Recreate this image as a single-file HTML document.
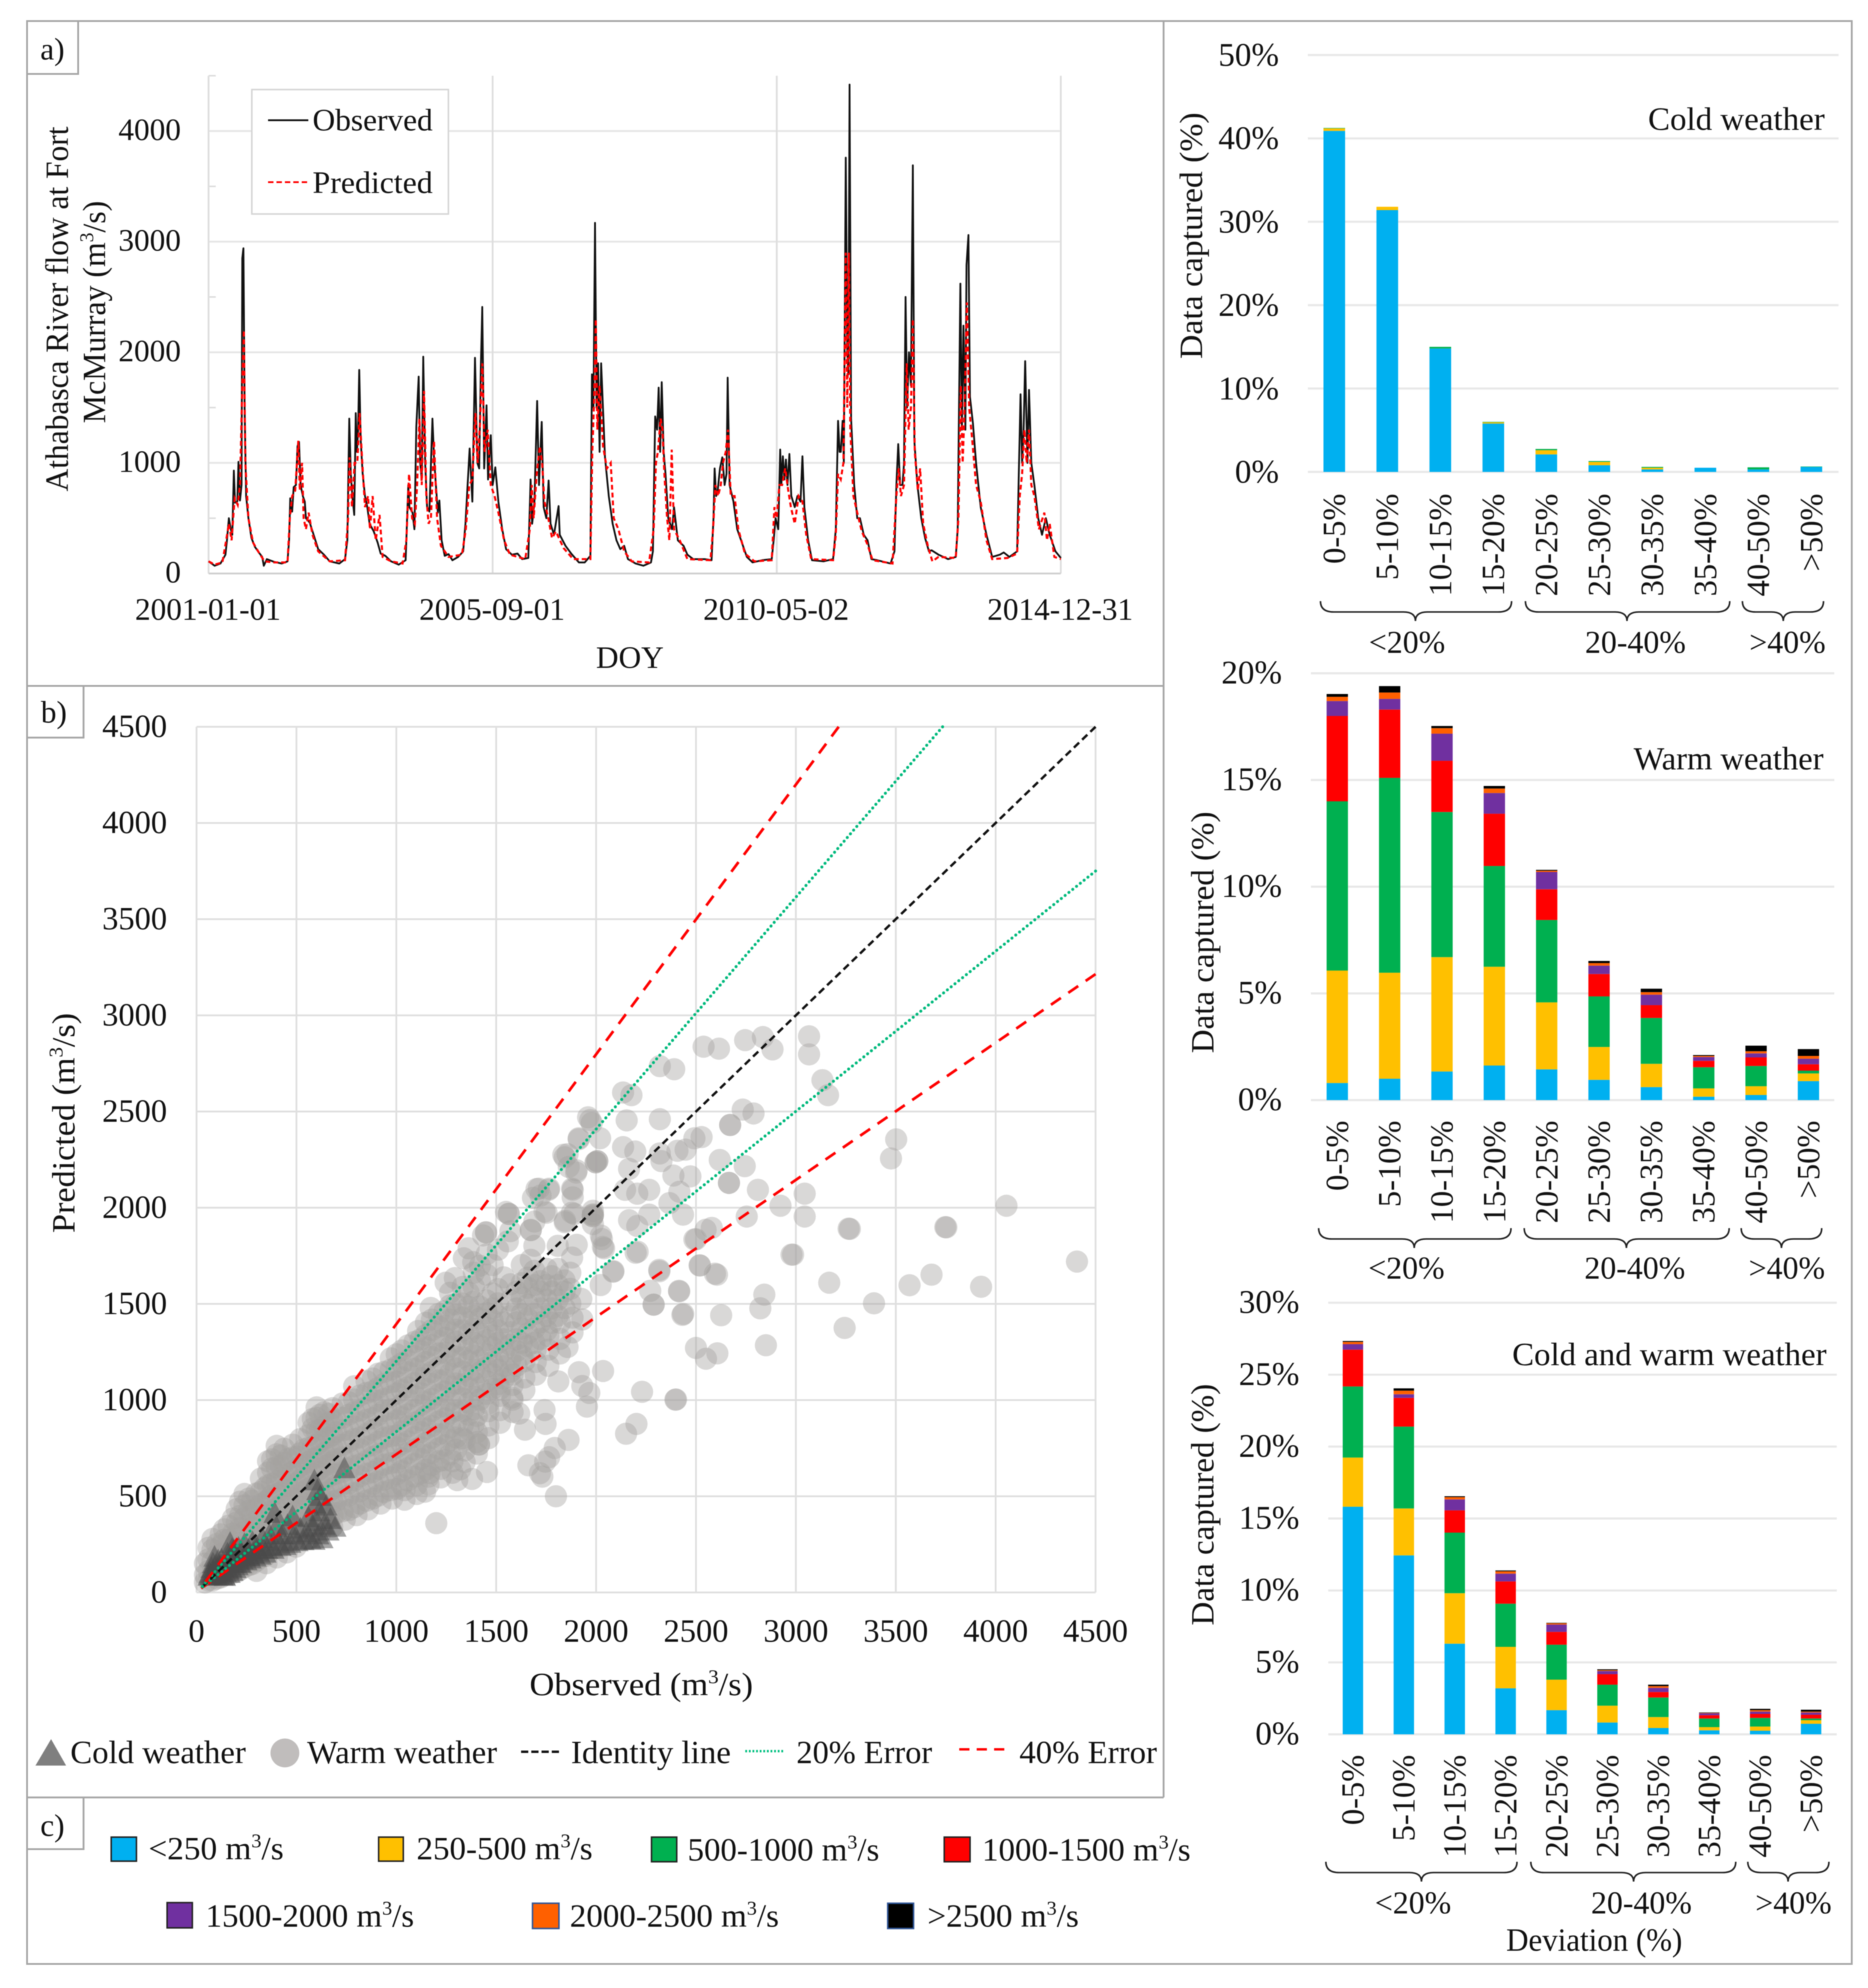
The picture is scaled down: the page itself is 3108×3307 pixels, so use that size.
<!DOCTYPE html>
<html lang="en">
<head>
<meta charset="utf-8">
<title>Athabasca River flow: observed vs predicted</title>
<style>
html,body{margin:0;padding:0;background:#fff;width:3108px;height:3307px;overflow:hidden}
svg{display:block;filter:blur(0.9px)}
text{font-family:"Liberation Serif","Times New Roman",serif;fill:#111}
</style>
</head>
<body>
<svg id="fig" xmlns="http://www.w3.org/2000/svg" width="3108" height="3307" viewBox="0 0 3108 3307">
  <rect x="0" y="0" width="3108" height="3307" fill="#fff"/>
  <g id="panelA"></g>
  <g id="panelB"></g>
  <g id="chartCold"></g>
  <g id="chartWarm"></g>
  <g id="chartBoth"></g>

  <g fill="none" stroke="#a6a6a6" stroke-width="3">
    <rect x="45" y="35" width="3036" height="3232"/>
    <path d="M1936 35V2990"/>
    <path d="M45 1141H1936"/>
    <path d="M45 2990H1936"/>
    <path d="M45 123H130V35"/>
    <path d="M45 1227H139V1141"/>
    <path d="M45 3076H139V2990"/>
  </g>
  <text x="67" y="99" font-size="52">a)</text>
  <text x="68" y="1202" font-size="52">b)</text>
  <text x="67" y="3054" font-size="52">c)</text>

  <!-- panel a static text -->
  <g>
    <rect x="419" y="149" width="327" height="207" fill="#fff" stroke="#d4d4d4" stroke-width="2.5"/>
    <path d="M446 200H513" stroke="#111" stroke-width="3"/>
    <text x="520" y="217" font-size="52" textLength="200" lengthAdjust="spacingAndGlyphs">Observed</text>
    <path d="M446 303H513" stroke="#f00" stroke-width="3" stroke-dasharray="9 5"/>
    <text x="520" y="321" font-size="52" textLength="200" lengthAdjust="spacingAndGlyphs">Predicted</text>
  </g>
  <text transform="rotate(-90 113 514)" x="113" y="514" text-anchor="middle" font-size="54" textLength="607" lengthAdjust="spacingAndGlyphs">Athabasca River flow at Fort</text>
  <text transform="rotate(-90 175 519)" x="175" y="519" text-anchor="middle" font-size="54" textLength="370" lengthAdjust="spacingAndGlyphs">McMurray (m<tspan font-size="33" dy="-20">3</tspan><tspan dy="20">/s)</tspan></text>
  <text x="1048" y="1111" text-anchor="middle" font-size="52">DOY</text>

  <!-- panel b static text -->
  <text transform="rotate(-90 124 1868)" x="124" y="1868" text-anchor="middle" font-size="54" textLength="366" lengthAdjust="spacingAndGlyphs">Predicted (m<tspan font-size="33" dy="-20">3</tspan><tspan dy="20">/s)</tspan></text>
  <text x="881" y="2820" font-size="54" textLength="372" lengthAdjust="spacingAndGlyphs">Observed (m<tspan font-size="33" dy="-20">3</tspan><tspan dy="20">/s)</tspan></text>
  <g>
    <path d="M85 2893L110 2937H59Z" fill="#7f7f7f"/>
    <text x="117" y="2933" font-size="54" textLength="292" lengthAdjust="spacingAndGlyphs">Cold weather</text>
    <circle cx="474" cy="2916" r="24" fill="#c0bdbc"/>
    <text x="511" y="2933" font-size="54" textLength="316" lengthAdjust="spacingAndGlyphs">Warm weather</text>
    <path d="M867 2914H930" stroke="#111" stroke-width="4" stroke-dasharray="12 5"/>
    <text x="950" y="2933" font-size="54" textLength="266" lengthAdjust="spacingAndGlyphs">Identity line</text>
    <path d="M1240 2913H1303" stroke="#00c080" stroke-width="4" stroke-dasharray="3 3"/>
    <text x="1325" y="2933" font-size="54" textLength="226" lengthAdjust="spacingAndGlyphs">20% Error</text>
    <path d="M1596 2910H1672" stroke="#f00" stroke-width="4" stroke-dasharray="17 12"/>
    <text x="1696" y="2933" font-size="54" textLength="229" lengthAdjust="spacingAndGlyphs">40% Error</text>
  </g>

  <!-- panel c legend -->
  <g stroke-width="0">
    <rect x="185" y="3056" width="42" height="40" fill="#00b0f0" stroke="#222" stroke-width="2.5"/>
    <text x="247" y="3093" font-size="54" textLength="225" lengthAdjust="spacingAndGlyphs">&lt;250 m<tspan font-size="33" dy="-20">3</tspan><tspan dy="20">/s</tspan></text>
    <rect x="630" y="3056" width="41" height="40" fill="#ffc000" stroke="#222" stroke-width="2.5"/>
    <text x="693" y="3093" font-size="54" textLength="293" lengthAdjust="spacingAndGlyphs">250-500 m<tspan font-size="33" dy="-20">3</tspan><tspan dy="20">/s</tspan></text>
    <rect x="1084" y="3056" width="42" height="41" fill="#00b050" stroke="#222" stroke-width="2.5"/>
    <text x="1144" y="3095" font-size="54" textLength="319" lengthAdjust="spacingAndGlyphs">500-1000 m<tspan font-size="33" dy="-20">3</tspan><tspan dy="20">/s</tspan></text>
    <rect x="1571" y="3056" width="43" height="41" fill="#f00" stroke="#222" stroke-width="2.5"/>
    <text x="1634" y="3095" font-size="54" textLength="347" lengthAdjust="spacingAndGlyphs">1000-1500 m<tspan font-size="33" dy="-20">3</tspan><tspan dy="20">/s</tspan></text>
    <rect x="278" y="3165" width="42" height="42" fill="#7030a0" stroke="#222" stroke-width="2.5"/>
    <text x="342" y="3205" font-size="54" textLength="347" lengthAdjust="spacingAndGlyphs">1500-2000 m<tspan font-size="33" dy="-20">3</tspan><tspan dy="20">/s</tspan></text>
    <rect x="886" y="3166" width="44" height="42" fill="#ff6000" stroke="#2f5597" stroke-width="2.5"/>
    <text x="948" y="3205" font-size="54" textLength="348" lengthAdjust="spacingAndGlyphs">2000-2500 m<tspan font-size="33" dy="-20">3</tspan><tspan dy="20">/s</tspan></text>
    <rect x="1477" y="3166" width="43" height="42" fill="#000" stroke="#2f5597" stroke-width="2.5"/>
    <text x="1543" y="3205" font-size="54" textLength="252" lengthAdjust="spacingAndGlyphs">&gt;2500 m<tspan font-size="33" dy="-20">3</tspan><tspan dy="20">/s</tspan></text>
  </g>

  <!-- right column titles -->
  <text x="2742" y="216" font-size="54" textLength="294" lengthAdjust="spacingAndGlyphs">Cold weather</text>
  <text x="2718" y="1280" font-size="54" textLength="316" lengthAdjust="spacingAndGlyphs">Warm weather</text>
  <text x="2516" y="2271" font-size="54" textLength="523" lengthAdjust="spacingAndGlyphs">Cold and warm weather</text>
  <text transform="rotate(-90 2000 392)" x="2000" y="392" text-anchor="middle" font-size="54" textLength="410" lengthAdjust="spacingAndGlyphs">Data captured (%)</text>
  <text transform="rotate(-90 2019 1551)" x="2019" y="1551" text-anchor="middle" font-size="54" textLength="402" lengthAdjust="spacingAndGlyphs">Data captured (%)</text>
  <text transform="rotate(-90 2019 2503)" x="2019" y="2503" text-anchor="middle" font-size="54" textLength="402" lengthAdjust="spacingAndGlyphs">Data captured (%)</text>
  <text x="2506" y="3245" font-size="54" textLength="293" lengthAdjust="spacingAndGlyphs">Deviation (%)</text>
</svg>

<script>
/* ---------- Panel a data: [sample step (1 step = 2.3 days), flow m3/s] ---------- */
const flowTickValues = [0, 1000, 2000, 3000, 4000];
const flowMinorTicks = [500, 1500, 2500, 3500, 4500];
const dateTickSteps = [0, 741, 1482, 2223];
const dateTickLabels = ['2001-01-01', '2005-09-01', '2010-05-02', '2014-12-31'];
const observedFlow = [
[0,110],[16,70],[31,90],[44,170],[48,300],[53,500],[58,400],[62,350],[66,930],[69,640],[75,650],[78,1010],[82,660],[86,800],[88,2850],[91,2940],[94,1500],[98,700],[104,500],[112,320],[121,240],[131,190],[140,150],[144,70],[152,130],[171,105],[191,90],[206,110],
[210,300],[213,680],[218,560],[222,780],[228,800],[232,1150],[236,1190],[240,800],[246,700],[251,650],[254,500],[264,460],[274,350],[286,220],[301,170],[316,110],[341,90],[356,130],
[362,300],[367,1400],[371,900],[375,700],[380,530],[384,1450],[387,1100],[390,1300],[393,1840],[397,1200],[402,900],[408,700],[414,600],[420,450],[431,380],[441,280],[449,180],[461,160],[476,110],[496,80],[514,120],
[521,800],[524,600],[532,550],[537,400],[542,1330],[548,1780],[552,1000],[556,850],[560,1960],[565,1000],[570,600],[576,560],[584,1400],[588,1050],[592,850],[598,550],[602,660],[608,300],[616,160],[626,175],[636,120],[651,150],[664,200],
[670,450],[681,1130],[688,650],[695,1950],[701,1000],[706,950],[710,1830],[714,2410],[719,950],[725,1520],[729,850],[736,1250],[741,800],[748,960],[756,650],[766,400],[776,220],[791,170],[806,180],[818,130],[834,140],
[840,850],[844,450],[850,650],[857,1560],[862,800],[869,1370],[874,600],[881,500],[887,840],[892,450],[901,350],[913,610],[916,350],[931,250],[946,180],[966,100],[981,100],[996,160],
[1000,1800],[1004,1500],[1008,3170],[1012,1500],[1016,1900],[1020,1100],[1024,1900],[1034,1050],[1044,700],[1054,450],[1064,300],[1074,220],[1084,250],[1094,130],[1114,90],[1134,70],[1154,100],
[1159,200],[1165,1420],[1170,1300],[1174,1680],[1178,1100],[1182,1730],[1187,1100],[1192,900],[1199,500],[1209,400],[1214,600],[1224,300],[1239,250],[1249,170],[1264,130],[1294,130],[1312,120],
[1317,500],[1320,950],[1324,700],[1328,750],[1334,950],[1340,1050],[1346,800],[1351,900],[1354,1770],[1359,800],[1369,650],[1379,400],[1389,300],[1404,150],[1419,100],[1444,120],[1469,130],
[1474,300],[1479,500],[1486,400],[1491,1120],[1494,800],[1498,1060],[1502,850],[1506,1030],[1510,800],[1515,1080],[1520,700],[1529,600],[1536,700],[1544,650],[1549,1060],[1554,600],[1564,300],[1574,120],[1604,110],[1629,130],
[1636,400],[1642,1380],[1646,1100],[1649,1100],[1654,1380],[1657,1000],[1662,3760],[1666,2000],[1669,1800],[1672,4420],[1676,1400],[1684,800],[1692,500],[1699,500],[1709,350],[1719,300],[1729,130],[1744,120],[1779,90],[1789,200],
[1794,800],[1799,1170],[1804,800],[1810,800],[1814,1000],[1818,2500],[1822,1500],[1827,2000],[1832,1700],[1837,3690],[1841,1200],[1849,800],[1859,500],[1869,320],[1879,200],[1886,210],[1904,170],[1929,130],[1949,150],
[1954,400],[1961,2620],[1965,1300],[1969,2240],[1974,1300],[1977,2790],[1982,3060],[1986,1600],[1994,1350],[2002,1000],[2014,600],[2029,350],[2044,150],[2064,170],[2074,190],[2089,150],[2109,200],
[2114,1000],[2118,1620],[2122,1000],[2126,1300],[2130,1920],[2136,1000],[2140,1660],[2146,1000],[2154,800],[2164,500],[2174,350],[2184,500],[2194,350],[2209,200],[2223,140]
];
const predictedFlow = [
[0,110],[16,80],[36,100],[46,300],[53,450],[60,300],[68,680],[76,620],[82,800],[88,1700],[92,2200],[96,1000],[104,500],[116,280],[131,190],[146,110],[171,100],[206,100],
[212,500],[218,700],[226,750],[234,1200],[238,750],[244,1000],[248,500],[254,400],[261,550],[271,350],[286,200],[316,110],[356,120],
[364,500],[368,1050],[374,600],[381,1000],[388,1000],[394,1450],[401,1000],[408,600],[416,700],[421,400],[428,700],[436,300],[446,530],[454,150],[476,110],[506,90],
[516,300],[523,900],[531,500],[538,450],[544,800],[550,1400],[556,800],[562,1650],[568,700],[574,450],[580,500],[588,1200],[596,500],[606,250],[626,150],[661,170],
[671,400],[680,800],[688,850],[696,1450],[702,1000],[708,1350],[714,1900],[720,1100],[728,1300],[736,800],[746,700],[756,550],[771,300],[786,170],[826,130],
[838,400],[843,800],[848,500],[856,900],[864,1150],[870,1000],[876,650],[886,500],[896,320],[906,380],[926,230],[951,130],[996,130],
[1001,1100],[1006,1600],[1010,2300],[1014,1300],[1020,1700],[1029,1150],[1039,950],[1049,1000],[1057,500],[1069,400],[1084,200],[1104,110],[1149,100],
[1161,400],[1167,1000],[1172,1100],[1179,1400],[1184,1300],[1189,900],[1196,500],[1202,300],[1208,1120],[1214,400],[1229,300],[1249,130],[1309,120],
[1316,400],[1322,800],[1329,700],[1336,800],[1342,1000],[1349,1100],[1355,1300],[1362,700],[1372,700],[1382,400],[1399,180],[1424,110],[1469,120],
[1476,600],[1482,500],[1489,800],[1496,800],[1504,950],[1512,750],[1519,600],[1529,450],[1539,700],[1549,650],[1559,350],[1572,130],[1629,120],
[1636,350],[1642,900],[1649,850],[1656,1000],[1662,2900],[1666,1500],[1670,2900],[1674,1300],[1682,700],[1692,550],[1704,380],[1719,260],[1732,120],[1784,90],
[1794,700],[1800,950],[1806,700],[1814,800],[1821,1900],[1826,1300],[1832,1500],[1837,2300],[1842,1100],[1850,750],[1856,950],[1864,450],[1876,250],[1888,110],[1904,150],[1949,140],
[1956,500],[1962,1700],[1967,1000],[1972,1500],[1978,2450],[1984,1500],[1992,1200],[2002,800],[2014,650],[2029,300],[2044,130],[2084,140],[2109,180],
[2116,700],[2122,900],[2128,1300],[2134,1000],[2140,1300],[2146,800],[2154,700],[2166,400],[2180,550],[2187,300],[2194,450],[2206,150],[2223,130]
];

/* ---------- Panel b data: observed, then predicted values ---------- */
const scatterTicks = [0,500,1000,1500,2000,2500,3000,3500,4000,4500];
const errorFactors = [1/1.4, 1/1.2, 1, 1.205, 1.4];
const warmDense = [
[60,[62,112,172,232]],[102,[72,128,194,252]],[138,[88,152,208,274,328]],[182,[102,168,244,306,384]],[218,[118,192,258,334,398,472]],
[262,[142,206,284,348,424,488]],[298,[163,234,298,372,436,514]],[342,[188,262,328,404,468,544]],[378,[222,288,364,426,504,566,644,692]],[422,[238,314,378,454,516,594,656,712]],
[458,[272,336,414,476,554,616,694]],[504,[288,364,426,504,566,644,706]],[538,[322,386,464,526,604,666,744]],[582,[338,414,476,554,616,694,756,852,902]],[618,[362,426,504,566,644,706,784,846,924]],
[662,[388,464,526,604,666,744,806,884,928]],[698,[412,476,554,616,694,756,834,896]],[762,[428,504,566,644,706,784,846,924,988]],[818,[462,526,604,666,744,806,884,946,1024]],[882,[488,564,626,704,766,844,906,984,1046,1112]],
[938,[522,586,664,726,804,866,944,1006,1084,1146]],[1002,[538,614,676,754,816,894,956,1034,1096,1174,1238]],[1058,[582,646,724,786,864,926,1004,1066,1144,1206,1284]],[1122,[618,694,756,834,896,974,1036,1114,1176,1254,1316]],[1178,[662,726,804,866,944,1006,1084,1146,1224,1286,1364,1418]],
[1242,[688,764,826,904,966,1044,1106,1184,1246,1324,1386,1462]],[1298,[742,806,884,946,1024,1086,1164,1226,1304,1366,1444,1498]],[1362,[848,924,986,1064,1126,1204,1266,1344,1406,1484,1558]],[1418,[1002,1066,1144,1206,1284,1346,1424,1486,1622,1698]],[1482,[1058,1134,1196,1274,1336,1414,1476,1554,1702]],
[1538,[1112,1176,1254,1316,1404,1638]],[1602,[1178,1254,1316,1404,1476,1564]],[1658,[1282,1346,1424,1496,1584,1636]],[1722,[1318,1404,1476,1564,1618]],[1778,[1402,1476,1564,1644]],[1842,[1478,1564,1622]]
];
const warmDenseFill = [
[42,[52,92,150]],[80,[62,104,162,222,278]],[121,[78,122,178,242,302]],[160,[96,133,207,273,347]],[201,[108,152,224,297,363,433]],
[240,[132,173,247,314,387,453,512]],[279,[148,197,263,337,403,477]],[322,[182,243,317,383,457,523,592]],[358,[203,277,343,417,483,557,623,682]],[401,[232,298,372,438,512,578,652,718,762]],
[439,[253,327,393,467,533,607,673,747]],[482,[282,348,422,488,562,628,702,768]],[519,[303,377,443,517,583,657,723,797]],[561,[332,398,472,538,612,678,752,818,882]],[601,[348,422,488,562,628,702,768,842,908,962]],
[639,[377,443,517,583,657,723,797,863,937]],[681,[398,472,538,612,678,752,818,892,958]],[731,[422,488,562,628,702,768,842,908,982]],[789,[443,517,583,657,723,797,863,937,1003,1072]],[851,[477,543,617,683,757,823,897,963,1037,1098]],
[909,[503,577,643,717,783,857,923,997,1063,1137]],[972,[532,598,672,738,812,878,952,1018,1092,1158,1217]],[1028,[558,632,698,772,838,912,978,1052,1118,1192,1258]],[1091,[602,668,742,808,882,948,1022,1088,1162,1228,1302]],[1148,[638,712,778,852,918,992,1058,1132,1198,1272,1338,1402]],
[1212,[682,748,822,888,962,1028,1102,1168,1242,1308,1382,1448]],[1269,[718,792,858,932,998,1072,1138,1212,1278,1352,1418,1492,1558]],[1332,[802,868,942,1008,1082,1148,1222,1288,1362,1428,1502,1588]],[1388,[878,952,1018,1092,1158,1232,1298,1372,1438,1512,1588,1662]],[1452,[1032,1098,1172,1238,1312,1378,1452,1518,1652,1758]],
[1509,[1083,1157,1223,1297,1363,1437,1503,1577,1782]],[1571,[1147,1213,1287,1353,1437,1518,1602,1878]],[1628,[1232,1298,1372,1448,1532,1608,1702]],[1691,[1298,1372,1448,1532,1598,1672,1802,1928]],[1752,[1362,1438,1522,1598,1682]],[1808,[1438,1522,1598,1682,1802]],[1871,[1502,1578,1662]]
];
const warmLowerEdge = [
[300,[112]],[350,[152]],[402,[182]],[451,[208]],[498,[238]],[562,[278]],[621,[312]],[679,[342]],[742,[378]],[801,[402]],[858,[432]],[921,[462]],[979,[488]],
[1041,[482,532]],[1102,[512,558]],[1161,[562,602]],[1222,[598,642]],[1281,[622,682]],[1342,[678,738,792]],[1403,[722,782,832,918]],[1461,[802,868,942,982]],[1519,[882,948,1022,1058]],[1582,[938,1002,1078,1132]],[1641,[1052,1118,1202]],[1698,[1132,1198,1262]],[1761,[1178,1262,1332]],[1819,[1242,1318,1402]],[1882,[1352,1428]]
];
const warmOutliers = [
[2538,2837],[2615,2827],[2746,2871],[2835,2887],[2883,2823],[3066,2891],[3066,2797],[3133,2663],[3161,2585],[2319,2736],[2391,2720],[2135,2599],[2177,2585],[1960,2470],[1978,2440],[2153,2454],[2319,2460],[2734,2510],[2788,2490],[2671,2430],[2671,2430],[2528,2367],[2492,2361],[1913,2361],[2020,2361],[1913,2356],[2135,2315],[2196,2292],[1836,2275],[2319,2282],[2448,2302],[2407,2296],[2619,2248],[2744,2216],[1998,2236],[1998,2236],[1843,2262],[1900,2183],[1863,2212],[2327,2242],[2165,2202],[2387,2167],[2472,2163],[2665,2129],[2665,2129],[2810,2093],[3044,2073],[2923,2010],[3044,1954],[2754,1954],[2435,1964],[3264,1891],[3748,1899],[4054,2010],[3502,2355],[3476,2256],[4407,1720],[2978,1756],[2198,1766],[2492,1835],[2579,1895],[2548,1885],[2518,1700],[2316,1677],[2595,1657],[2085,1667],[1883,2054],[1984,1964],[1984,1964],[1879,1974],[1752,1974],[1843,1925],[1984,1915],[2024,1855],[2034,1796],[2165,1935],[2206,1905],[2266,2093],[2206,2073],[2145,2093],[2417,2083],[2367,2024],[2266,1964],[1762,2093],[1883,2093],[1722,2063],[1984,1984],
[2006,2242],[2006,2242],[1857,2278],[1903,2194],[1713,2099],[1765,2099],[1880,2099],[1684,2051],[1563,1968],[1563,1968],[1742,1980],[1891,1968],[1845,1932],[1983,1956],[1983,1956],[1673,1884],[1673,1884],[1449,1872],[1558,1825],[1673,1729],[1903,1807],[2029,1837],[2040,1789],[2208,1771],[1362,1789],[1385,1717],[1880,1741],[2087,1670],[2023,1598],[2317,1670],[2271,1568],[2415,1568],[2288,1496],[2288,1496],[2432,1443],[1926,1526],[1931,1419],[1247,1610],[1293,1634],[1172,1479],[1109,1359],[1857,1276],[1914,1145],[2035,1151],[1931,1073],[1966,1037],[1954,966],[2230,1043],[2397,1002],[2202,876],[2150,825],[1811,1097],[1742,948],[1747,876],[1644,846],[1615,930],[1580,1013],[1862,793],[1793,751],[1661,661],[1719,620],[1731,602],[1765,703],[1745,680],[1454,626],[1379,590],[1305,584],[1414,769],[1414,769],[1320,640],[1799,500],[1144,524],[1167,620],[1200,360],[1449,1872],[1702,2097],[1549,1978],[1434,1856],[1338,1737],[1971,2456],
[2500,1836],[2986,1756],[2520,1700],[2605,1652],[2416,1565],[3270,1890],[3753,1898],[2842,1548],[2822,1477],[3167,1610],[3569,1597],[3679,1652],[3927,1589],[3391,1503],[3244,1375],[2436,1448],[2626,1441],[2500,1271],[2607,1243],[2550,1215],[2850,1285],[2400,1003]
];
const coldPoints = [
[60,85],[66,100],[70,90],[75,125],[80,88],[82,150],[85,105],[90,184],[95,100],[98,140],[100,86],[105,120],[108,165],[110,92],[115,135],[120,110],[125,170],[130,86],[135,130],[140,88],[142,84],[145,105],[150,150],[155,200],[160,120],[165,100],[168,256],[170,180],[175,130],[178,225],[180,110],[185,215],[190,150],[195,125],[200,190],[205,140],[210,230],[215,155],[223,150],[225,205],[230,170],[240,250],[245,185],[250,165],[260,220],[265,190],[270,175],[280,260],[285,200],[295,185],[300,240],[310,215],[320,195],[330,280],[335,225],[345,205],[353,225],[365,300],[375,240],[385,225],[391,412],[400,340],[410,265],[420,240],[430,300],[445,245],[455,350],[469,256],[481,394],[490,300],[505,265],[520,330],[535,270],[550,310],[560,390],[570,275],[580,340],[590,272],[590,581],[595,460],[600,370],[605,530],[610,300],[615,420],[620,500],[630,280],[640,350],[650,450],[660,320],[670,380],[695,340],[740,644]
];

/* ---------- Bar chart data (percent captured by flow class) ---------- */
const deviationBins = ['0-5%','5-10%','10-15%','15-20%','20-25%','25-30%','30-35%','35-40%','40-50%','>50%'];
const flowClassColors = ['#00b0f0','#ffc000','#00b050','#ff0000','#7030a0','#ff6000','#000000'];
const coldUnder250 = [40.9,31.4,14.8,5.8,2.1,0.8,0.3,0.5,0.3,0.6];
const cold250to500 = [0.3,0.4,0,0.15,0.5,0.4,0.2,0,0,0];
const cold500to1000 = [0.05,0,0.2,0.05,0.15,0.1,0.1,0,0.25,0.05];
const warmUnder250 = [0.8,1,1.34,1.62,1.44,0.95,0.61,0.16,0.24,0.89];
const warm250to500 = [5.27,4.97,5.36,4.63,3.14,1.54,1.09,0.39,0.41,0.36];
const warm500to1000 = [7.93,9.13,6.8,4.72,3.86,2.37,2.15,0.99,0.95,0.13];
const warm1000to1500 = [4,3.2,2.4,2.45,1.44,1.05,0.6,0.3,0.4,0.3];
const warm1500to2000 = [0.7,0.5,1.27,0.97,0.81,0.39,0.49,0.18,0.19,0.26];
const warm2000to2500 = [0.2,0.3,0.26,0.21,0.06,0.12,0.12,0.05,0.1,0.13];
const warmOver2500 = [0.13,0.3,0.1,0.12,0.04,0.1,0.16,0.04,0.26,0.32];
const allUnder250 = [15.82,12.44,6.3,3.2,1.68,0.82,0.44,0.28,0.25,0.73];
const all250to500 = [3.42,3.26,3.51,2.88,2.12,1.17,0.76,0.22,0.29,0.25];
const all500to1000 = [4.94,5.69,4.21,3,2.43,1.46,1.36,0.6,0.6,0.12];
const all1000to1500 = [2.56,2,1.55,1.55,0.89,0.73,0.38,0.23,0.28,0.26];
const all1500to2000 = [0.38,0.25,0.76,0.54,0.51,0.22,0.29,0.13,0.16,0.16];
const all2000to2500 = [0.16,0.25,0.16,0.16,0.09,0.06,0.12,0.03,0.1,0.06];
const allOver2500 = [0.06,0.16,0.06,0.06,0.03,0.06,0.1,0.03,0.09,0.13];
const coldPercentTicks = [0,10,20,30,40,50];
const warmPercentTicks = [0,5,10,15,20];
const bothPercentTicks = [0,5,10,15,20,25,30];
const groupLabels = ['<20%','20-40%','>40%'];

/* ---------- helpers ---------- */
const NS = 'http://www.w3.org/2000/svg';
function mk(parent, tag, attrs, content) {
  const el = document.createElementNS(NS, tag);
  for (const k in attrs) el.setAttribute(k, attrs[k]);
  if (content !== undefined) el.textContent = content;
  parent.appendChild(el);
  return el;
}
function linePath(pts, fx, fy) {
  return pts.map((p, i) => (i ? 'L' : 'M') + fx(p[0]).toFixed(1) + ' ' + fy(p[1]).toFixed(1)).join('');
}

/* ---------- Panel a ---------- */
(function () {
  const g = document.getElementById('panelA');
  const xA = s => 347 + s * (1418 / 2223);
  const yA = v => 954 - v * 0.184;
  const top = yA(4500);
  flowTickValues.forEach(v => {
    if (v > 0) {
      const gl = mk(g, 'line', {x1: xA(0), x2: xA(2223), y1: yA(v), y2: yA(v), stroke: '#e6e6e6', 'stroke-width': 3});
      
      
    }
    const t = mk(g, 'text', {x: 301, y: yA(v) + 15, 'text-anchor': 'end', 'font-size': 52}, String(v));
    
    
  });
  flowMinorTicks.forEach(v => {
    const tk = mk(g, 'line', {x1: xA(0), x2: xA(0) + 12, y1: yA(v), y2: yA(v), stroke: '#dcdcdc', 'stroke-width': 2.5});
    
    
  });
  dateTickSteps.forEach((s, i) => {
    const gl = mk(g, 'line', {x1: xA(s), x2: xA(s), y1: top, y2: yA(0), stroke: '#dedede', 'stroke-width': 3});
    
    
    const t = mk(g, 'text', {x: xA(s) - 1, y: 1031, 'text-anchor': 'middle', 'font-size': 52}, dateTickLabels[i]);
    
    
  });
  const axis = mk(g, 'line', {x1: xA(0), x2: xA(2223), y1: yA(0), y2: yA(0), stroke: '#d0d0d0', 'stroke-width': 3});
  
  
  const obs = mk(g, 'path', {d: linePath(observedFlow, xA, yA), fill: 'none', stroke: '#111', 'stroke-width': 3, 'stroke-linejoin': 'round'});
  
  
  const pred = mk(g, 'path', {d: linePath(predictedFlow, xA, yA), fill: 'none', stroke: '#f00', 'stroke-width': 3.4, 'stroke-dasharray': '8 5'});
  
  
})();

/* ---------- Panel b ---------- */
(function () {
  const g = document.getElementById('panelB');
  const xB = v => 327 + v * 0.3324;
  const yB = v => 2649 - v * 0.32;
  scatterTicks.forEach(v => {
    const gh = mk(g, 'line', {x1: xB(0), x2: xB(4500), y1: yB(v), y2: yB(v), stroke: '#dfdfdf', 'stroke-width': 3});
    
    
    const gv = mk(g, 'line', {x1: xB(v), x2: xB(v), y1: yB(4500), y2: yB(0), stroke: '#dfdfdf', 'stroke-width': 3});
    
    
    const ty = mk(g, 'text', {x: 278, y: yB(v) + 17, 'text-anchor': 'end', 'font-size': 54}, String(v));
    
    
    const tx = mk(g, 'text', {x: xB(v), y: 2731, 'text-anchor': 'middle', 'font-size': 54}, String(v));
    
    
  });
  const warmGroup = mk(g, 'g', {fill: '#a5a19f', 'fill-opacity': 0.42});
  
  
  const drawWarm = (ox, py) => {
    const c = mk(warmGroup, 'circle', {cx: xB(ox), cy: yB(py), r: 18.5});
    
    
  };
  warmDense.forEach(col => col[1].forEach(py => drawWarm(col[0], py)));
  warmDenseFill.forEach(col => col[1].forEach(py => drawWarm(col[0], py)));
  warmLowerEdge.forEach(col => col[1].forEach(py => drawWarm(col[0], py)));
  warmOutliers.forEach(p => drawWarm(p[0], p[1]));
  const coldGroup = mk(g, 'g', {fill: '#4a4a4a', 'fill-opacity': 0.5});
  
  
  coldPoints.forEach(p => {
    const cx = xB(p[0]), cy = yB(p[1]);
    const t = mk(coldGroup, 'path', {d: `M${cx} ${cy - 20}L${cx + 18.5} ${cy + 16}H${cx - 18.5}Z`});
    
    
  });
  errorFactors.forEach(k => {
    const endX = Math.min(4500, 4500 / k);
    const endY = endX * k;
    const style = k === 1
      ? {stroke: '#111', 'stroke-width': 4, 'stroke-dasharray': '12 7'}
      : (Math.abs(k - 1.205) < 0.01 || Math.abs(k - 1 / 1.2) < 0.01)
        ? {stroke: '#00b97c', 'stroke-width': 5, 'stroke-dasharray': '0.1 8', 'stroke-linecap': 'round'}
        : {stroke: '#f00', 'stroke-width': 4.5, 'stroke-dasharray': '20 15'};
    const ln = mk(g, 'line', Object.assign({x1: xB(endX), y1: yB(endY), x2: xB(18), y2: yB(18)}, style));
    
    
  });
})();

/* ---------- Bar charts ---------- */
function barChart(id, seriesList, ticks, L) {
  const g = document.getElementById(id);
  const xBin = i => L.cx0 + i * L.step;
  const yPct = v => L.y0 - v * L.k;
  ticks.forEach(v => {
    const gl = mk(g, 'line', {x1: L.gx0, x2: L.gx1, y1: yPct(v), y2: yPct(v), stroke: '#e8e8e8', 'stroke-width': 3.5});
    
    
    const t = mk(g, 'text', {x: L.tickX, y: yPct(v) + L.tickDy, 'text-anchor': 'end', 'font-size': 55}, v + '%');
    
    
  });
  deviationBins.forEach((label, i) => {
    let acc = 0;
    seriesList.forEach((series, s) => {
      const val = series[i];
      if (val > 0) {
        const r = mk(g, 'rect', {x: xBin(i) - L.w / 2, y: yPct(acc + val), width: L.w, height: val * L.k, fill: flowClassColors[s]});
        
        
      }
      acc += val;
    });
    const bx = xBin(i) + 18;
    const t = mk(g, 'text', {x: bx, y: L.labelTop, 'text-anchor': 'end', 'font-size': 54, transform: `rotate(-90 ${bx} ${L.labelTop})`}, label);
    
    
  });
  L.braces.forEach((b, i) => {
    const y1 = L.braceY, ym = y1 + 18, y2 = y1 + 33;
    const d = `M${b[0]} ${y1}Q${b[0]} ${ym} ${b[0] + 22} ${ym}H${b[2] - 20}Q${b[2]} ${ym} ${b[2]} ${y2}Q${b[2]} ${ym} ${b[2] + 20} ${ym}H${b[1] - 22}Q${b[1]} ${ym} ${b[1]} ${y1}`;
    const p = mk(g, 'path', {d: d, fill: 'none', stroke: '#222', 'stroke-width': 2.6});
    
    
    const t = mk(g, 'text', {x: b[3], y: L.groupY, 'text-anchor': 'middle', 'font-size': 53}, groupLabels[i]);
    
    
  });
}
barChart('chartCold', [coldUnder250, cold250to500, cold500to1000], coldPercentTicks, {
  cx0: 2220, step: 88.2, w: 36, y0: 785, k: 13.87, gx0: 2176, gx1: 3059, tickX: 2128, tickDy: 18, labelTop: 821,
  braceY: 1000, groupY: 1086,
  braces: [[2197, 2515, 2355, 2341], [2538, 2878, 2707, 2721], [2899, 3034, 2967, 2974]]
});
barChart('chartWarm', [warmUnder250, warm250to500, warm500to1000, warm1000to1500, warm1500to2000, warm2000to2500, warmOver2500], warmPercentTicks, {
  cx0: 2225, step: 87.1, w: 35.5, y0: 1830, k: 35.5, gx0: 2181, gx1: 3052, tickX: 2133, tickDy: 17, labelTop: 1864,
  braceY: 2043, groupY: 2127,
  braces: [[2194, 2514, 2353, 2340], [2536, 2877, 2706, 2720], [2897, 3031, 2964, 2973]]
});
barChart('chartBoth', [allUnder250, all250to500, all500to1000, all1000to1500, all1500to2000, all2000to2500, allOver2500], bothPercentTicks, {
  cx0: 2251, step: 84.7, w: 34, y0: 2885, k: 23.93, gx0: 2210, gx1: 3056, tickX: 2162, tickDy: 17, labelTop: 2919,
  braceY: 3097, groupY: 3183,
  braces: [[2206, 2524, 2365, 2351], [2547, 2888, 2718, 2731], [2908, 3043, 2975, 2984]]
});
</script>
</body>
</html>
